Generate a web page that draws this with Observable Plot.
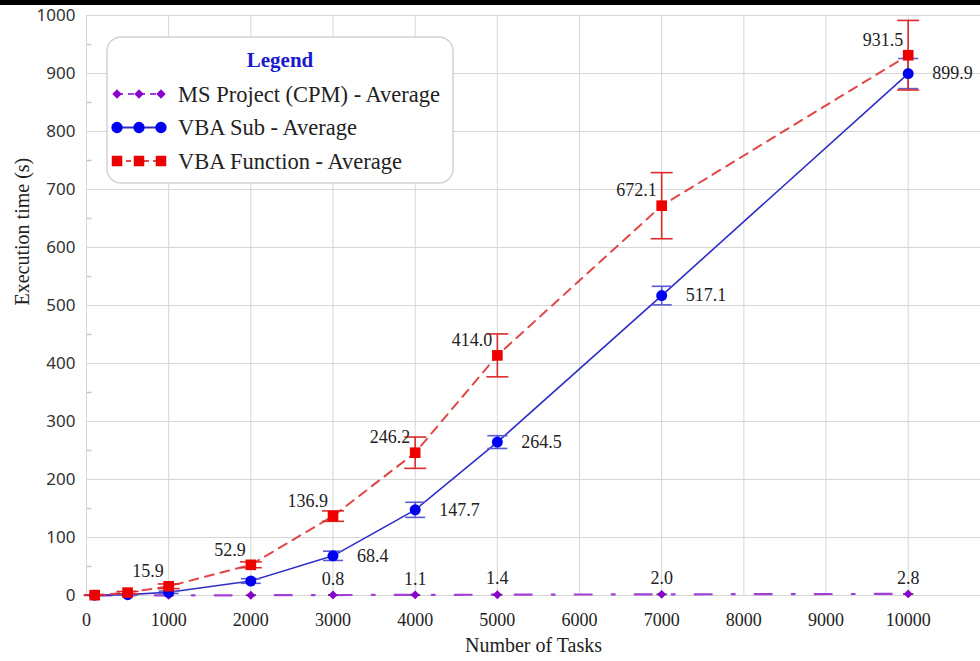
<!DOCTYPE html>
<html><head><meta charset="utf-8">
<script src="https://cdn.jsdelivr.net/npm/d3@7"></script>
<script src="https://cdn.jsdelivr.net/npm/@observablehq/plot@0.6"></script>
<style>
body{margin:0;background:#fff;width:980px;height:661px;overflow:hidden;position:relative;}
#topbar{height:5px;background:#000;}
#legend{position:absolute;left:106px;top:36px;}
</style></head>
<body>
<div id="topbar"></div>
<div id="chart"></div>
<svg id="legend" width="350" height="150"></svg>
<script>
// ---- data ----
const tasks = [100, 500, 1000, 2000, 3000, 4000, 5000, 7000, 10000];
const msProject   = [0.0, 0.1, 0.2, 0.4, 0.8, 1.1, 1.4, 2.0, 2.8];
const msErr       = [0.0, 0.0, 0.0, 0.0, 0.0, 0.0, 0.0, 0.0, 0.0];
const vbaSub      = [0.5, 1.5, 5.5, 25.0, 68.4, 147.7, 264.5, 517.1, 899.9];
const subErr      = [0.3, 1, 2, 4, 8, 13, 11, 16, 26];
const vbaFunction = [0.6, 5.0, 15.9, 52.9, 136.9, 246.2, 414.0, 672.1, 931.5];
const funcErr     = [0.3, 2, 4, 5, 9, 27, 37, 57, 60];
const seriesNames = ["MS Project (CPM) - Average", "VBA Sub - Average", "VBA Function - Average"];
const labelFrom   = [4, 4, 2]; // first index with a value label, per series
const xTicks = d3.range(0, 10001, 1000);
const yTicks = d3.range(0, 1001, 100);
const yMinor = d3.range(50, 1000, 100);

const rows = [];
[[msProject, msErr], [vbaSub, subErr], [vbaFunction, funcErr]].forEach(([vals, errs], s) => {
  tasks.forEach((t, i) => rows.push({s, x: t, y: vals[i], err: errs[i], label: i >= labelFrom[s]}));
});
const ser = s => rows.filter(d => d.s === s);

const cap = {draw(ctx, size) { const w = Math.sqrt(size / Math.PI); ctx.moveTo(-w, 0); ctx.lineTo(w, 0); }};
const tickIn = {draw(ctx, size) { const w = Math.sqrt(size / Math.PI); ctx.moveTo(0, 0); ctx.lineTo(w, 0); }};

const colors = {
  msLine: "#a23fd6", msDot: "#8a00cc",
  subLine: "#2e2ec6", subDot: "#0000f0", subErr: "#5a5ad6",
  fnLine: "#e04848", fnDot: "#ee0000", fnErr: "#dd2a2a"
};
const serif = "Liberation Serif, Times New Roman, serif";
const sans = "Noto Sans, sans-serif";

function errMarks(data, stroke, r) {
  return [
    Plot.ruleX(data, {x: "x", y1: d => d.y - d.err, y2: d => d.y + d.err, stroke, strokeWidth: 1.6}),
    Plot.dot(data, {x: "x", y: d => d.y - d.err, symbol: cap, r, stroke, strokeWidth: 1.6}),
    Plot.dot(data, {x: "x", y: d => d.y + d.err, symbol: cap, r, stroke, strokeWidth: 1.6})
  ];
}

const chart = Plot.plot({
  width: 980, height: 656,
  marginLeft: 86, marginRight: 0, marginTop: 10, marginBottom: 66,
  style: {background: "#fff", overflow: "visible"},
  x: {domain: [0, 10880], axis: null},
  y: {domain: [0, 1000], axis: null},
  marks: [
    Plot.gridX(xTicks, {stroke: "#d6d6d6", strokeOpacity: 1}),
    Plot.gridY(yTicks, {stroke: "#d6d6d6", strokeOpacity: 1}),
    Plot.dot(yMinor, {y: d => d, frameAnchor: "left", symbol: tickIn, r: 5, stroke: "#c8c8c8"}),
    // tick labels
    Plot.text(xTicks, {x: d => d, frameAnchor: "bottom", dy: 30, text: d => String(d), fontSize: 18, fontFamily: serif, fill: "#222"}),
    Plot.text(yTicks, {y: d => d, frameAnchor: "left", textAnchor: "end", dx: -11, text: d => String(d), fontSize: 17, fontFamily: sans, fill: "#333"}),
    Plot.text(["Number of Tasks"], {frameAnchor: "bottom", dy: 56, fontSize: 20, fontFamily: serif, fill: "#222"}),
    Plot.text(["Execution time (s)"], {frameAnchor: "left", rotate: -90, dx: -64, fontSize: 20, fontFamily: serif, fill: "#222"}),
    // lines
    Plot.line(ser(0), {x: "x", y: "y", stroke: colors.msLine, strokeWidth: 2.2, strokeDasharray: "17,20,3,20"}),
    Plot.line(ser(1), {x: "x", y: "y", stroke: colors.subLine, strokeWidth: 1.6}),
    Plot.line(ser(2), {x: "x", y: "y", stroke: colors.fnLine, strokeWidth: 2, strokeDasharray: "9,7"}),
    // error bars
    ...errMarks(ser(0), "#555", 5),
    ...errMarks(ser(1), colors.subErr, 10),
    ...errMarks(ser(2), colors.fnErr, 11),
    // points
    Plot.dot(ser(0), {x: "x", y: "y", symbol: "diamond2", r: 4, fill: colors.msDot}),
    Plot.dot(ser(1), {x: "x", y: "y", symbol: "circle", r: 5.5, fill: colors.subDot}),
    Plot.dot(ser(2), {x: "x", y: "y", symbol: "square", r: 6, fill: colors.fnDot}),
    // value labels
    Plot.text(ser(0).filter(d => d.label), {x: "x", y: "y", text: d => d.y.toFixed(1), dy: -16, fontSize: 18, fontFamily: serif, fill: "#222"}),
    Plot.text(ser(1).filter(d => d.label), {x: "x", y: "y", text: d => d.y.toFixed(1), textAnchor: "start", dx: 24, fontSize: 18, fontFamily: serif, fill: "#222"}),
    Plot.text(ser(2).filter(d => d.label), {x: "x", y: "y", text: d => d.y.toFixed(1), textAnchor: "end", dx: -5, dy: -15, fontSize: 18, fontFamily: serif, fill: "#222"})
  ]
});
document.getElementById("chart").appendChild(chart);

// ---- legend ----
const lg = d3.select("#legend");
lg.append("rect").attr("x", 1).attr("y", 1).attr("width", 346).attr("height", 146).attr("rx", 14)
  .attr("fill", "#fff").attr("stroke", "#d4d4d4").attr("stroke-width", 1.5);
lg.append("text").attr("x", 174).attr("y", 24).attr("text-anchor", "middle").attr("dominant-baseline", "central")
  .attr("font-family", serif).attr("font-weight", "bold").attr("font-size", 21).attr("fill", "#1a1acc").text("Legend");
const legendStyles = [
  {line: colors.msLine, dot: colors.msDot, dash: "6,5", sym: d3.symbolDiamond2, size: 55},
  {line: colors.subLine, dot: colors.subDot, dash: null, sym: d3.symbolCircle, size: 100},
  {line: colors.fnLine, dot: colors.fnDot, dash: "5,4", sym: d3.symbolSquare, size: 110}
];
seriesNames.forEach((name, i) => {
  const cy = 58 + i * 33.5, st = legendStyles[i];
  lg.append("line").attr("x1", 11).attr("x2", 55).attr("y1", cy).attr("y2", cy)
    .attr("stroke", st.line).attr("stroke-width", 2).attr("stroke-dasharray", st.dash);
  [11, 33, 55].forEach(cx => lg.append("path").attr("d", d3.symbol(st.sym, st.size)())
    .attr("transform", `translate(${cx},${cy})`).attr("fill", st.dot));
  lg.append("text").attr("x", 72).attr("y", cy).attr("dominant-baseline", "central")
    .attr("font-family", serif).attr("font-size", 22.5).attr("fill", "#222").text(name);
});
</script>
</body></html>
